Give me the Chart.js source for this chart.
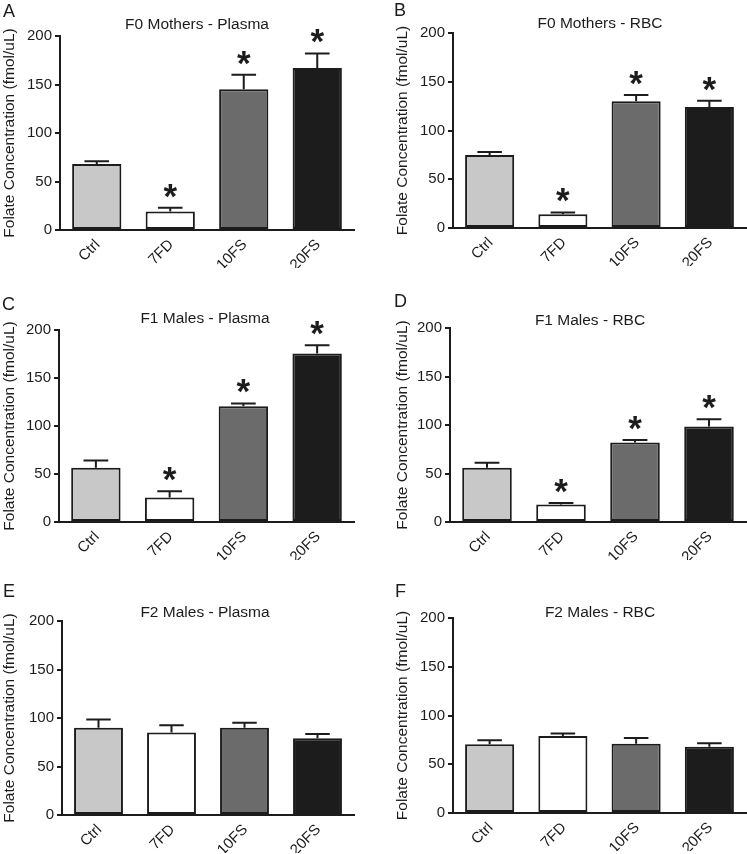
<!DOCTYPE html>
<html>
<head>
<meta charset="utf-8">
<script src="https://cdn.jsdelivr.net/npm/chart.js@4.4.1/dist/chart.umd.min.js"></script>
<style>
  html, body { margin: 0; padding: 0; background: #ffffff; }
  body { position: relative; width: 747px; height: 854px; overflow: hidden; }
  canvas { position: absolute; display: block; }
</style>
</head>
<body>
<canvas id="cA"></canvas>
<canvas id="cB"></canvas>
<canvas id="cC"></canvas>
<canvas id="cD"></canvas>
<canvas id="cE"></canvas>
<canvas id="cF"></canvas>
<script>
// ---------- DATA ----------
const categories = ['Ctrl', '7FD', '10FS', '20FS'];
const yTicks = [0, 50, 100, 150, 200];
const yAxisLabel = 'Folate Concentration (fmol/uL)';
const panelLetters = ['A', 'B', 'C', 'D', 'E', 'F'];
const panelTitles = ['F0 Mothers - Plasma', 'F0 Mothers - RBC', 'F1 Males - Plasma',
                     'F1 Males - RBC', 'F2 Males - Plasma', 'F2 Males - RBC'];

const f0PlasmaMean = [68, 19, 145, 167];
const f0PlasmaSem  = [3, 4, 15, 15];
const f0PlasmaSig  = [false, true, true, true];

const f0RbcMean = [75, 14, 130, 124];
const f0RbcSem  = [3, 2, 6.5, 6.5];
const f0RbcSig  = [false, true, true, true];

const f1PlasmaMean = [56.5, 25.5, 120.5, 175.5];
const f1PlasmaSem  = [7.5, 6.5, 3, 8.5];
const f1PlasmaSig  = [false, true, true, true];

const f1RbcMean = [56, 18, 82, 98.5];
const f1RbcSem  = [5, 1.5, 2.5, 7.5];
const f1RbcSig  = [false, true, true, true];

const f2PlasmaMean = [90, 85, 90, 79];
const f2PlasmaSem  = [8.5, 7.5, 5, 4.5];
const f2PlasmaSig  = [false, false, false, false];

const f2RbcMean = [70.5, 79, 71, 68];
const f2RbcSem  = [4, 2.5, 6, 3.5];
const f2RbcSig  = [false, false, false, false];

// ---------- STYLE / LAYOUT ----------
const FONT = "'Liberation Sans', Arial, Helvetica, sans-serif";
const INK = '#1c1c1c';
const barColors = ['#c8c8c8', '#ffffff', '#6b6b6b', '#1c1c1c'];

const panels = [
  { id: 'cA', mean: f0PlasmaMean, sem: f0PlasmaSem, sig: f0PlasmaSig, x: 0,   y: 0,   w: 373, h: 280,
    area: { l: 60, t: 36, r: 354, b: 230 }, yTitleX: 8,  letter: [3, 17],  title: [197, 29] },
  { id: 'cB', mean: f0RbcMean,    sem: f0RbcSem,    sig: f0RbcSig,    x: 373, y: 0,   w: 374, h: 280,
    area: { l: 80, t: 33, r: 373, b: 228 }, yTitleX: 30, letter: [21, 16], title: [227, 28] },
  { id: 'cC', mean: f1PlasmaMean, sem: f1PlasmaSem, sig: f1PlasmaSig, x: 0,   y: 280, w: 373, h: 280,
    area: { l: 59, t: 50, r: 354, b: 244 }, yTitleX: 8,  letter: [2, 30],  title: [205, 43] },
  { id: 'cD', mean: f1RbcMean,    sem: f1RbcSem,    sig: f1RbcSig,    x: 373, y: 280, w: 374, h: 280,
    area: { l: 77, t: 48, r: 373, b: 242 }, yTitleX: 30, letter: [21, 27], title: [217, 45] },
  { id: 'cE', mean: f2PlasmaMean, sem: f2PlasmaSem, sig: f2PlasmaSig, x: 0,   y: 560, w: 373, h: 294,
    area: { l: 62, t: 61, r: 354, b: 255 }, yTitleX: 8,  letter: [3, 37],  title: [205, 57] },
  { id: 'cF', mean: f2RbcMean,    sem: f2RbcSem,    sig: f2RbcSig,    x: 373, y: 560, w: 374, h: 294,
    area: { l: 80, t: 58, r: 373, b: 253 }, yTitleX: 30, letter: [22, 37], title: [227, 57] }
];

// Error bars + significance stars
const errorBarPlugin = {
  id: 'errorBars',
  afterDatasetsDraw(chart, args, opts) {
    const { ctx, scales: { y } } = chart;
    const meta = chart.getDatasetMeta(0);
    const ds = chart.data.datasets[0];
    ctx.save();
    meta.data.forEach((bar, i) => {
      const top = y.getPixelForValue(ds.data[i]);
      const errPx = y.getPixelForValue(ds.data[i] + opts.sem[i]);
      const half = bar.width / 4;
      ctx.strokeStyle = INK;
      ctx.lineWidth = 2;
      ctx.beginPath();
      ctx.moveTo(bar.x, top);
      ctx.lineTo(bar.x, errPx);
      ctx.moveTo(bar.x - half, errPx);
      ctx.lineTo(bar.x + half, errPx);
      ctx.stroke();
      if (opts.sig[i]) {
        ctx.fillStyle = INK;
        ctx.font = 'bold 35px ' + FONT;
        ctx.textAlign = 'center';
        ctx.textBaseline = 'alphabetic';
        ctx.fillText('*', bar.x, errPx);
      }
    });
    ctx.restore();
  }
};

const labelsPlugin = {
  id: 'panelLabels',
  afterDraw(chart, args, opts) {
    const { ctx } = chart;
    ctx.save();
    ctx.fillStyle = INK;
    ctx.textBaseline = 'alphabetic';
    ctx.font = '18px ' + FONT;
    ctx.textAlign = 'left';
    ctx.fillText(opts.letter, opts.letterPos[0], opts.letterPos[1]);
    ctx.font = '15.5px ' + FONT;
    ctx.textAlign = 'center';
    ctx.fillText(opts.title, opts.titlePos[0], opts.titlePos[1]);
    ctx.restore();
  }
};

const X_AXIS_H = 38;
const TITLE_LH = 15.5 * 1.2;

panels.forEach((p, idx) => {
  const cv = document.getElementById(p.id);
  cv.width = p.w; cv.height = p.h;
  cv.style.left = p.x + 'px'; cv.style.top = p.y + 'px';
  cv.style.width = p.w + 'px'; cv.style.height = p.h + 'px';
  const padLeft = Math.max(0, p.yTitleX - TITLE_LH / 2);
  const yW = p.area.l - padLeft;
  const padBottom = Math.max(0, p.h - p.area.b - X_AXIS_H);

  new Chart(cv, {
    type: 'bar',
    data: {
      labels: categories,
      datasets: [{
        data: p.mean,
        backgroundColor: barColors,
        borderColor: INK,
        borderWidth: 2,
        borderSkipped: false,
        categoryPercentage: 1.0,
        barPercentage: 0.67
      }]
    },
    options: {
      responsive: false,
      animation: false,
      devicePixelRatio: 1,
      layout: { padding: { left: padLeft, top: p.area.t, right: p.w - p.area.r, bottom: padBottom } },
      plugins: {
        legend: { display: false },
        tooltip: { enabled: false },
        title: { display: false },
        errorBars: { sem: p.sem, sig: p.sig },
        panelLabels: { letter: panelLetters[idx], title: panelTitles[idx], letterPos: p.letter, titlePos: p.title }
      },
      scales: {
        x: {
          type: 'category',
          offset: true,
          grid: { display: false, drawTicks: false },
          border: { display: true, color: INK, width: 2 },
          ticks: {
            font: { family: FONT, size: 15 },
            color: INK,
            minRotation: 45,
            maxRotation: 45,
            autoSkip: false,
            padding: 6,
            labelOffset: 1
          },
          afterFit(s) { s.height = X_AXIS_H; }
        },
        y: {
          min: yTicks[0],
          max: yTicks[yTicks.length - 1],
          afterBuildTicks(s) { s.ticks = yTicks.map(v => ({ value: v })); },
          ticks: { font: { family: FONT, size: 15 }, color: INK, padding: 3 },
          grid: { drawOnChartArea: false, drawTicks: true, tickLength: 5, color: INK, lineWidth: 2 },
          border: { display: true, color: INK, width: 2 },
          title: { display: true, text: yAxisLabel, font: { family: FONT, size: 15.5 }, color: INK, padding: 0 },
          afterFit(s) { s.width = yW; }
        }
      }
    },
    plugins: [errorBarPlugin, labelsPlugin]
  });
});
</script>
</body>
</html>
